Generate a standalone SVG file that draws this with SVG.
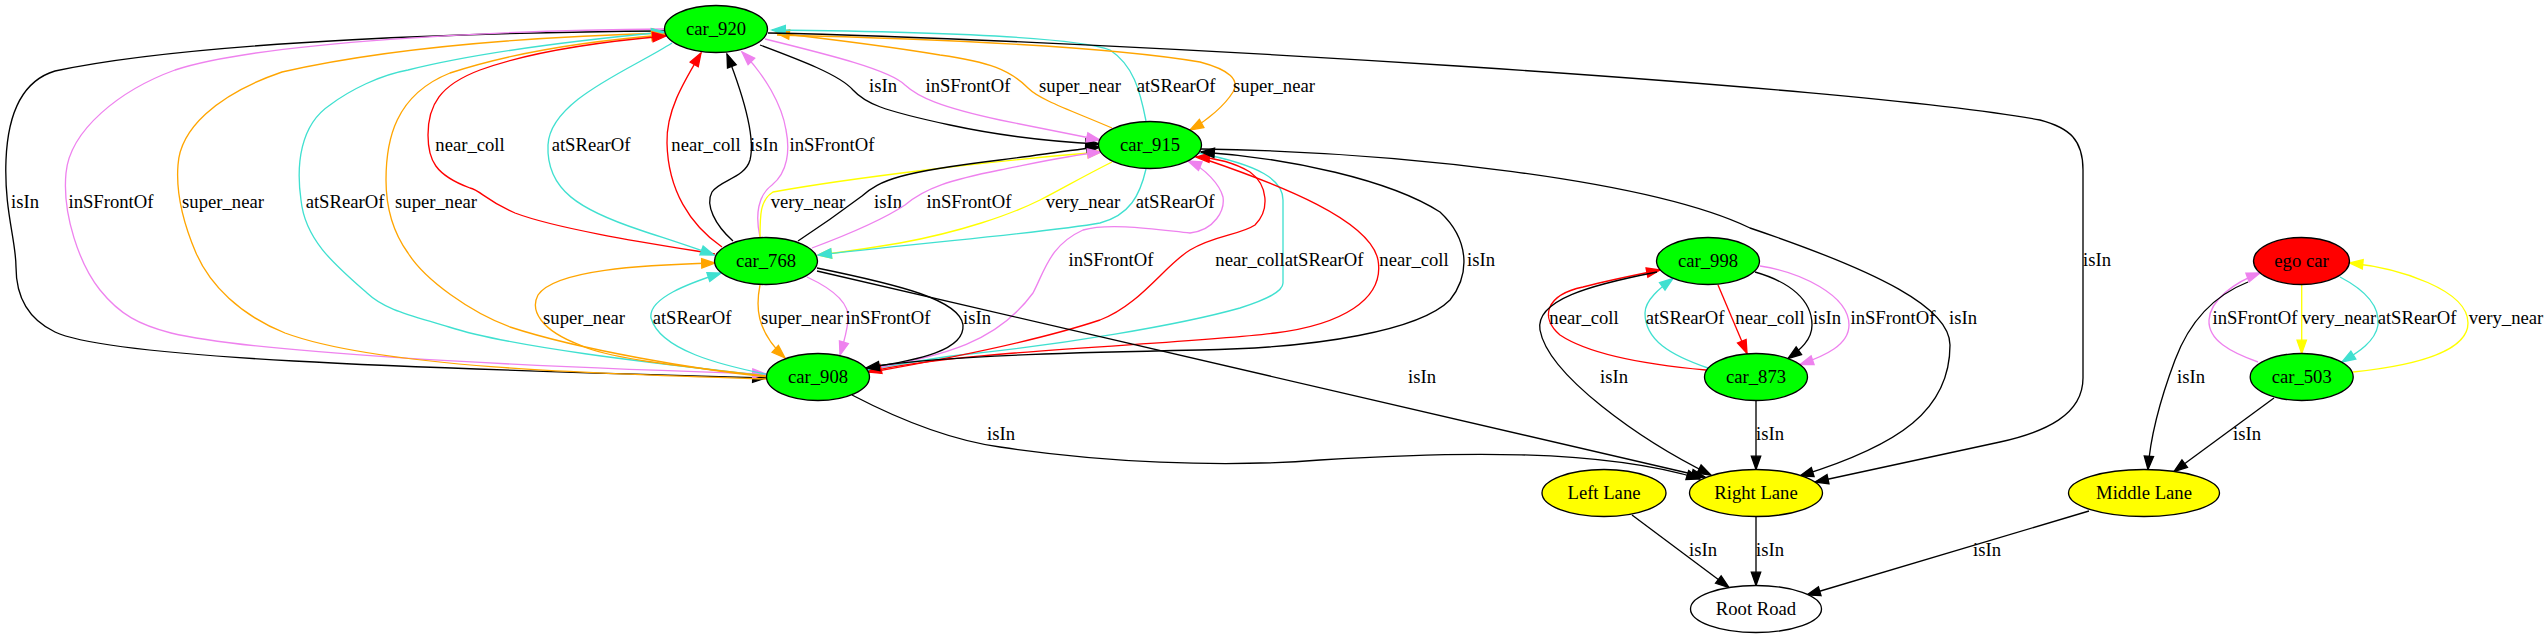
<svg xmlns="http://www.w3.org/2000/svg" width="2547" height="639" viewBox="0 0 2547 639">
<defs>
<style>
.e{fill:none;stroke-width:1.33}
.k{stroke:#000;marker-end:url(#mk)}
.r{stroke:#f00;marker-end:url(#mr)}
.v{stroke:#ee82ee;marker-end:url(#mv)}
.o{stroke:#ffa500;marker-end:url(#mo)}
.t{stroke:#40e0d0;marker-end:url(#mt)}
.y{stroke:#ff0;marker-end:url(#my)}
text{font-family:"Liberation Serif","Times New Roman",serif;font-size:18.67px;text-anchor:middle;fill:#000}
.n{stroke:#000;stroke-width:1.33}
.g{fill:#0f0}.rd{fill:#f00}.yl{fill:#ff0}.w{fill:#fff}
</style>
<marker id="mk" markerUnits="userSpaceOnUse" viewBox="0 0 16 12" markerWidth="16" markerHeight="12" refX="14" refY="5.67" orient="auto" overflow="visible"><path d="M0.7,1 L14,5.67 L0.7,10.33 Z" fill="#000" stroke="#000" stroke-width="1.33"/></marker>
<marker id="mr" markerUnits="userSpaceOnUse" viewBox="0 0 16 12" markerWidth="16" markerHeight="12" refX="14" refY="5.67" orient="auto" overflow="visible"><path d="M0.7,1 L14,5.67 L0.7,10.33 Z" fill="#f00" stroke="#f00" stroke-width="1.33"/></marker>
<marker id="mv" markerUnits="userSpaceOnUse" viewBox="0 0 16 12" markerWidth="16" markerHeight="12" refX="14" refY="5.67" orient="auto" overflow="visible"><path d="M0.7,1 L14,5.67 L0.7,10.33 Z" fill="#ee82ee" stroke="#ee82ee" stroke-width="1.33"/></marker>
<marker id="mo" markerUnits="userSpaceOnUse" viewBox="0 0 16 12" markerWidth="16" markerHeight="12" refX="14" refY="5.67" orient="auto" overflow="visible"><path d="M0.7,1 L14,5.67 L0.7,10.33 Z" fill="#ffa500" stroke="#ffa500" stroke-width="1.33"/></marker>
<marker id="mt" markerUnits="userSpaceOnUse" viewBox="0 0 16 12" markerWidth="16" markerHeight="12" refX="14" refY="5.67" orient="auto" overflow="visible"><path d="M0.7,1 L14,5.67 L0.7,10.33 Z" fill="#40e0d0" stroke="#40e0d0" stroke-width="1.33"/></marker>
<marker id="my" markerUnits="userSpaceOnUse" viewBox="0 0 16 12" markerWidth="16" markerHeight="12" refX="14" refY="5.67" orient="auto" overflow="visible"><path d="M0.7,1 L14,5.67 L0.7,10.33 Z" fill="#ff0" stroke="#ff0" stroke-width="1.33"/></marker>
</defs>
<rect width="2547" height="639" fill="#fff"/>
<g id="edges">
<g id="e1"><path class="e k" d="M665,31 C500,32 200,40 55,71 C25,80 8,110 6,160 C4,210 16,240 16,267 C16,300 30,320 55,332 C110,358 400,368 766,378"/><text x="25" y="208">isIn</text></g>
<g id="e2"><path class="e v" d="M666,29 C500,30 260,42 175,70 C120,90 70,130 66,173 C62,215 80,265 100,290 C120,315 140,325 171,333 C250,352 500,366 766,374"/><text x="111" y="208">inSFrontOf</text></g>
<g id="e3"><path class="e o" d="M767,379 C600,374 380,368 285,333 C240,315 210,285 196,253 C182,220 176,190 178,165 C180,130 215,95 282,72 C400,45 560,36 665,33"/><text x="223" y="208">super_near</text></g>
<g id="e4"><path class="e t" d="M768,376 C700,368 520,350 449,327 C410,315 385,310 367,293 C335,265 305,240 301,200 C296,165 300,125 330,105 C350,90 380,75 408,70 C480,52 580,40 665,32"/><text x="345" y="208">atSRearOf</text></g>
<g id="e5"><path class="e o" d="M768,377 C700,370 580,350 510,327 C470,312 425,280 408,253 C395,235 386,210 386,180 C386,140 395,95 450,73 C520,50 600,40 665,35"/><text x="436" y="208">super_near</text></g>
<g id="e6"><path class="e r" d="M715,254 C660,245 560,230 515,213 C485,200 480,190 470,188 C435,175 428,160 428,135 C428,105 440,85 480,70 C540,48 620,40 666,36"/><text x="470" y="151">near_coll</text></g>
<g id="e7"><path class="e t" d="M672,43 C630,70 550,100 548,145 C546,190 580,210 640,230 C670,240 695,248 714,255"/><text x="591" y="151">atSRearOf</text></g>
<g id="e8"><path class="e r" d="M722,247 C690,225 668,190 667,143 C666,110 685,80 701,53"/><text x="706" y="151">near_coll</text></g>
<g id="e9"><path class="e k" d="M733,241 C715,225 705,205 712,192 C720,180 745,178 750,160 C755,140 745,100 727,54"/><text x="764" y="151">isIn</text></g>
<g id="e10"><path class="e v" d="M760,237 C755,215 758,195 772,185 C788,172 790,150 786,130 C782,105 765,75 742,52"/><text x="832" y="151">inSFrontOf</text></g>
<g id="e11"><path class="e k" d="M760,45 C800,60 840,75 853,90 C865,103 880,110 950,125 C1010,138 1060,142 1099,144"/><text x="883" y="92">isIn</text></g>
<g id="e12"><path class="e v" d="M765,39 C830,55 890,70 905,85 C918,97 940,107 1000,120 C1040,128 1070,134 1100,140"/><text x="968" y="92">inSFrontOf</text></g>
<g id="e13"><path class="e o" d="M1112,128 C1070,110 1040,100 1028,88 C1010,70 990,62 940,55 C880,45 820,38 776,33"/><text x="1080" y="92">super_near</text></g>
<g id="e14"><path class="e t" d="M1146,121 C1140,90 1133,65 1110,50 C1080,38 960,32 772,30"/><text x="1176" y="92">atSRearOf</text></g>
<g id="e15"><path class="e o" d="M777,35 C900,38 1100,45 1200,62 C1230,70 1240,80 1233,92 C1225,105 1208,120 1190,130"/><text x="1274" y="92">super_near</text></g>
<g id="e16"><path class="e k" d="M768,33 C1100,40 1850,85 2040,120 C2070,128 2083,140 2083,170 L2083,378 C2083,415 2045,432 2000,442 C1940,455 1880,468 1815,482"/><text x="2097" y="266">isIn</text></g>
<g id="e17"><path class="e y" d="M760,238 C760,215 760,200 773,192 C850,178 1000,160 1101,152"/><text x="808" y="208">very_near</text></g>
<g id="e18"><path class="e k" d="M798,241 C830,220 850,205 862,196 C880,180 900,172 1000,160 C1040,155 1070,150 1100,147"/><text x="888" y="208">isIn</text></g>
<g id="e19"><path class="e v" d="M812,248 C860,230 890,215 905,205 C925,188 950,180 1000,170 C1040,162 1065,156 1101,152"/><text x="969" y="208">inSFrontOf</text></g>
<g id="e20"><path class="e y" d="M1112,162 C1080,178 1060,190 1040,200 C1010,215 960,232 900,243 C870,248 845,252 818,255"/><text x="1083" y="208">very_near</text></g>
<g id="e21"><path class="e t" d="M1146,169 C1140,195 1130,215 1100,223 C1050,232 950,240 818,255"/><text x="1175" y="208">atSRearOf</text></g>
<g id="e24"><path class="e t" d="M1198,153 C1260,165 1283,180 1283,200 L1283,283 C1283,292 1265,300 1240,308 C1180,325 1060,345 960,355 C920,360 892,366 866,370"/><text x="1324" y="266">atSRearOf</text></g>
<g id="e22"><path class="e v" d="M876,368 C940,355 995,345 1033,293 C1045,270 1050,245 1083,230 C1110,222 1160,230 1190,233 C1215,230 1225,210 1223,197 C1220,185 1205,168 1188,161"/><text x="1111" y="266">inSFrontOf</text></g>
<g id="e23"><path class="e r" d="M872,372 C940,360 1040,340 1100,320 C1140,305 1165,265 1190,250 C1215,235 1240,235 1255,225 C1270,210 1268,185 1250,172 C1235,163 1215,158 1196,157"/><text x="1250" y="266">near_coll</text></g>
<g id="e25"><path class="e r" d="M1207,160 C1280,185 1370,220 1378,260 C1385,300 1340,325 1275,333 C1180,345 960,350 868,372"/><text x="1414" y="266">near_coll</text></g>
<g id="e26"><path class="e k" d="M876,366 C950,355 1100,352 1200,350 C1320,348 1420,330 1450,300 C1470,275 1470,240 1440,212 C1390,180 1290,158 1201,152"/><text x="1481" y="266">isIn</text></g>
<g id="e27"><path class="e k" d="M1201,149 C1400,152 1650,180 1750,228 C1880,272 1950,308 1950,345 C1950,410 1900,445 1800,476"/><text x="1963" y="324">isIn</text></g>
<g id="e28"><path class="e o" d="M766,376 C700,368 610,360 580,345 C540,330 530,310 538,295 C555,270 640,265 715,263"/><text x="584" y="324">super_near</text></g>
<g id="e29"><path class="e t" d="M770,375 C720,365 660,350 651,318 C648,298 690,283 721,273"/><text x="692" y="324">atSRearOf</text></g>
<g id="e30"><path class="e o" d="M760,285 C756,305 755,330 785,358"/><text x="802" y="324">super_near</text></g>
<g id="e31"><path class="e v" d="M807,277 C835,290 850,305 848,320 C847,332 844,342 840,355"/><text x="888" y="324">inSFrontOf</text></g>
<g id="e32"><path class="e k" d="M817,268 C900,285 960,300 963,325 C965,350 920,360 866,368"/><text x="977" y="324">isIn</text></g>
<g id="e33"><path class="e k" d="M817,271 L1705,477"/><text x="1422" y="383">isIn</text></g>
<g id="e34"><path class="e k" d="M852,395 C900,420 950,440 1000,447 C1100,462 1220,468 1320,460 C1450,452 1600,448 1700,479"/><text x="1001" y="440">isIn</text></g>
<g id="e35"><path class="e r" d="M1706,370 C1650,365 1590,355 1560,335 C1540,318 1545,295 1583,287 C1610,280 1635,275 1660,270"/><text x="1584" y="324">near_coll</text></g>
<g id="e36"><path class="e k" d="M1657,272 C1590,285 1535,300 1540,330 C1548,375 1640,440 1711,475"/><text x="1614" y="383">isIn</text></g>
<g id="e37"><path class="e t" d="M1708,368 C1670,355 1645,340 1645,313 C1645,300 1660,288 1673,278.5"/><text x="1685" y="324">atSRearOf</text></g>
<g id="e38"><path class="e r" d="M1718,285 L1747,353.5"/><text x="1770" y="324">near_coll</text></g>
<g id="e39"><path class="e k" d="M1755,272 C1790,282 1812,300 1812,325 C1812,340 1800,350 1788,358.5"/><text x="1827" y="324">isIn</text></g>
<g id="e40"><path class="e v" d="M1760,266 C1800,272 1849,295 1849,325 C1849,345 1825,356 1800,364.5"/><text x="1893" y="324">inSFrontOf</text></g>
<g id="e41"><path class="e k" d="M1756,401 L1756,469.5"/><text x="1770" y="440">isIn</text></g>
<g id="e42"><path class="e v" d="M2258,362 C2230,352 2208,340 2209,320 C2210,300 2235,282 2260,273"/><text x="2255" y="324">inSFrontOf</text></g>
<g id="e43"><path class="e y" d="M2301.7,285 L2301.7,353.5"/><text x="2339" y="324">very_near</text></g>
<g id="e44"><path class="e t" d="M2340,277 C2365,290 2380,305 2378,325 C2375,343 2355,354 2342,362"/><text x="2417" y="324">atSRearOf</text></g>
<g id="e45"><path class="e y" d="M2353,372 C2420,365 2468,350 2468,323 C2468,290 2400,268 2349.5,263"/><text x="2506" y="324">very_near</text></g>
<g id="e46"><path class="e k" d="M2248,282 C2215,295 2190,320 2175,360 C2160,400 2150,440 2148,469.5"/><text x="2191" y="383">isIn</text></g>
<g id="e47"><path class="e k" d="M2274,398 L2174,471.5"/><text x="2247" y="440">isIn</text></g>
<g id="e48"><path class="e k" d="M2089,511 L1807,595"/><text x="1987" y="556">isIn</text></g>
<g id="e49"><path class="e k" d="M1632,515 L1729,587.5"/><text x="1703" y="556">isIn</text></g>
<g id="e50"><path class="e k" d="M1756,517 L1756,585.5"/><text x="1770" y="556">isIn</text></g>
</g>
<g id="nodes">
<g id="car_920"><ellipse class="n g" cx="716" cy="29" rx="51.5" ry="23.5"/><text x="716" y="35">car_920</text></g>
<g id="car_915"><ellipse class="n g" cx="1150" cy="145" rx="51.5" ry="23.5"/><text x="1150" y="151">car_915</text></g>
<g id="car_768"><ellipse class="n g" cx="766" cy="261" rx="51.5" ry="23.5"/><text x="766" y="267">car_768</text></g>
<g id="car_908"><ellipse class="n g" cx="818" cy="377" rx="51.5" ry="23.5"/><text x="818" y="383">car_908</text></g>
<g id="car_998"><ellipse class="n g" cx="1708" cy="261" rx="51.5" ry="23.5"/><text x="1708" y="267">car_998</text></g>
<g id="car_873"><ellipse class="n g" cx="1756" cy="377" rx="51.5" ry="23.5"/><text x="1756" y="383">car_873</text></g>
<g id="ego_car"><ellipse class="n rd" cx="2301.5" cy="261" rx="48" ry="23.5"/><text x="2301.5" y="267">ego car</text></g>
<g id="car_503"><ellipse class="n g" cx="2301.7" cy="377" rx="51.5" ry="23.5"/><text x="2301.7" y="383">car_503</text></g>
<g id="left_lane"><ellipse class="n yl" cx="1604" cy="493" rx="62" ry="23.5"/><text x="1604" y="499">Left Lane</text></g>
<g id="right_lane"><ellipse class="n yl" cx="1756" cy="493" rx="66.5" ry="23.5"/><text x="1756" y="499">Right Lane</text></g>
<g id="middle_lane"><ellipse class="n yl" cx="2144" cy="493" rx="75.5" ry="23.5"/><text x="2144" y="499">Middle Lane</text></g>
<g id="root_road"><ellipse class="n w" cx="1756" cy="609" rx="65.5" ry="23.5"/><text x="1756" y="615">Root Road</text></g>
</g>
</svg>
